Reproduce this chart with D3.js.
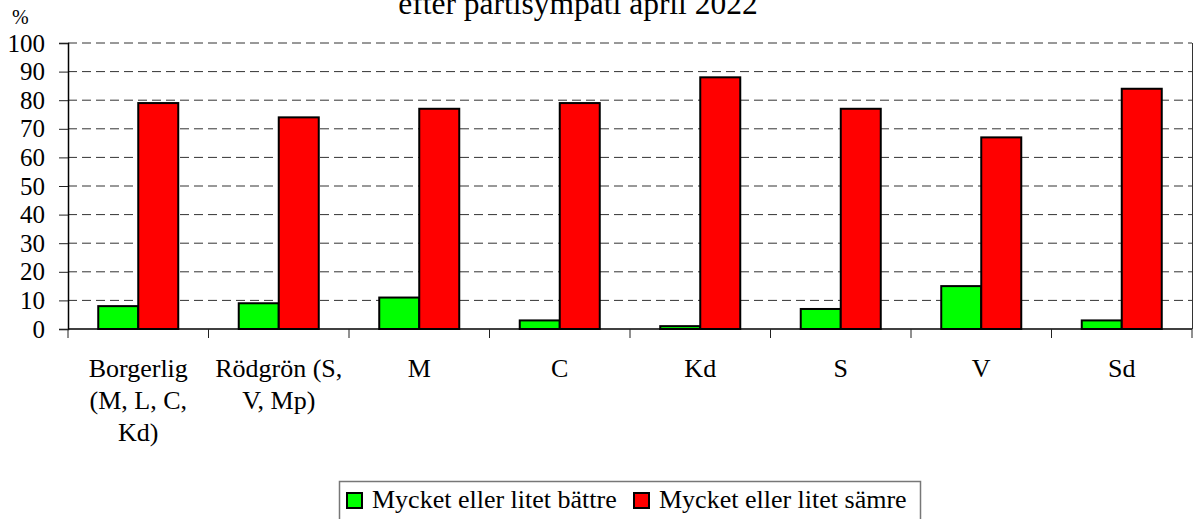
<!DOCTYPE html>
<html>
<head>
<meta charset="utf-8">
<script src="https://cdn.jsdelivr.net/npm/d3@7"></script>
<style>
  body { margin: 0; background: #fff; }
</style>
</head>
<body>
<svg id="chart"></svg>
<script>
const width = 1195,
      height = 519;

const categories = ["Borgerlig (M, L, C, Kd)", "Rödgrön (S, V, Mp)", "M", "C", "Kd", "S", "V", "Sd"];
const categoryLines = [["Borgerlig", "(M, L, C,", "Kd)"], ["Rödgrön (S,", "V, Mp)"], ["M"], ["C"], ["Kd"], ["S"], ["V"], ["Sd"]];
const seriesNames = ["Mycket eller litet bättre", "Mycket eller litet sämre"];
const battre = [8, 9, 11, 3, 1, 7, 15, 3];
const samre = [79, 74, 77, 79, 88, 77, 67, 84];
const yTicks = [0, 10, 20, 30, 40, 50, 60, 70, 80, 90, 100];
const colors = ["#00ff00", "#ff0000"];

const serif = "'Liberation Serif', 'Times New Roman', serif";
const margin = { left: 68, right: 1192, top: 43, bottom: 329 };

const svg = d3.select("#chart")
  .attr("width", width)
  .attr("height", height);

const x0 = d3.scaleBand()
  .domain(categories)
  .range([margin.left, margin.right])
  .padding(0);

const x1 = d3.scaleBand()
  .domain(seriesNames)
  .range([0, x0.bandwidth()])
  .paddingInner(0)
  .paddingOuter(0.756);

const y = d3.scaleLinear()
  .domain([0, 100])
  .range([margin.bottom, margin.top]);

// title (its first line lies above the picture)
svg.append("text")
  .attr("x", 578)
  .attr("y", 14)
  .attr("text-anchor", "middle")
  .style("font-family", serif)
  .style("font-size", "31.5px")
  .text("efter partisympati april 2022");

svg.append("text")
  .attr("x", 12)
  .attr("y", 24)
  .style("font-family", serif)
  .style("font-size", "20px")
  .text("%");

// gridlines
svg.append("g")
  .selectAll("line")
  .data(yTicks.filter(d => d > 0))
  .join("line")
  .attr("x1", margin.left)
  .attr("x2", margin.right)
  .attr("y1", d => y(d))
  .attr("y2", d => y(d))
  .attr("stroke", "#333")
  .attr("stroke-width", 1)
  .attr("stroke-dasharray", "9,5");

// right frame
svg.append("line")
  .attr("x1", margin.right + 0.5)
  .attr("x2", margin.right + 0.5)
  .attr("y1", margin.top)
  .attr("y2", margin.bottom)
  .attr("stroke", "#333");

// y axis
const yAxis = svg.append("g")
  .attr("transform", `translate(${margin.left},0)`)
  .call(d3.axisLeft(y).tickValues(yTicks).tickSize(9).tickPadding(14));
yAxis.select(".domain").attr("stroke", "#000").attr("stroke-width", 1.5);
yAxis.selectAll(".tick line").attr("stroke", "#222");
yAxis.selectAll("text")
  .style("font-family", serif)
  .style("font-size", "25px")
  .attr("fill", "#000");

// bars
const groups = svg.append("g")
  .selectAll("g")
  .data(categories)
  .join("g")
  .attr("transform", d => `translate(${x0(d)},0)`);

groups.selectAll("rect")
  .data((d, i) => [battre[i], samre[i]].map((v, j) => ({ key: seriesNames[j], value: v, j })))
  .join("rect")
  .attr("x", d => x1(d.key))
  .attr("width", x1.bandwidth())
  .attr("y", d => y(d.value))
  .attr("height", d => y(0) - y(d.value))
  .attr("fill", d => colors[d.j])
  .attr("stroke", "#000")
  .attr("stroke-width", 2);

// x axis
const xAxis = svg.append("g")
  .attr("transform", `translate(0,${margin.bottom})`);
xAxis.append("line")
  .attr("x1", margin.left)
  .attr("x2", margin.right)
  .attr("stroke", "#000")
  .attr("stroke-width", 1.5);
xAxis.selectAll("line.tick")
  .data(categories.concat(["end"]))
  .join("line")
  .attr("class", "tick")
  .attr("x1", (d, i) => i < categories.length ? x0(d) : margin.right)
  .attr("x2", (d, i) => i < categories.length ? x0(d) : margin.right)
  .attr("y1", 0)
  .attr("y2", 9)
  .attr("stroke", "#222");

const labels = svg.append("g")
  .selectAll("text")
  .data(categories)
  .join("text")
  .attr("text-anchor", "middle")
  .style("font-family", serif)
  .style("font-size", "26px")
  .attr("x", d => x0(d) + x0.bandwidth() / 2)
  .attr("y", 377);
labels.each(function(d, i) {
  d3.select(this).selectAll("tspan")
    .data(categoryLines[i])
    .join("tspan")
    .attr("x", x0(d) + x0.bandwidth() / 2)
    .attr("dy", (t, k) => k === 0 ? 0 : 32)
    .text(t => t);
});

// legend
const legend = svg.append("g");
legend.append("rect")
  .attr("x", 339.5)
  .attr("y", 481.5)
  .attr("width", 581)
  .attr("height", 50)
  .attr("fill", "#fff")
  .attr("stroke", "#777")
  .attr("stroke-width", 1.5);

const legendX = [347, 634];
seriesNames.forEach((name, i) => {
  legend.append("rect")
    .attr("x", legendX[i])
    .attr("y", 493)
    .attr("width", 15)
    .attr("height", 15)
    .attr("fill", colors[i])
    .attr("stroke", "#000")
    .attr("stroke-width", 2);
  legend.append("text")
    .attr("x", legendX[i] + 25)
    .attr("y", 508)
    .style("font-family", serif)
    .style("font-size", "26px")
    .text(name);
});
</script>
</body>
</html>
